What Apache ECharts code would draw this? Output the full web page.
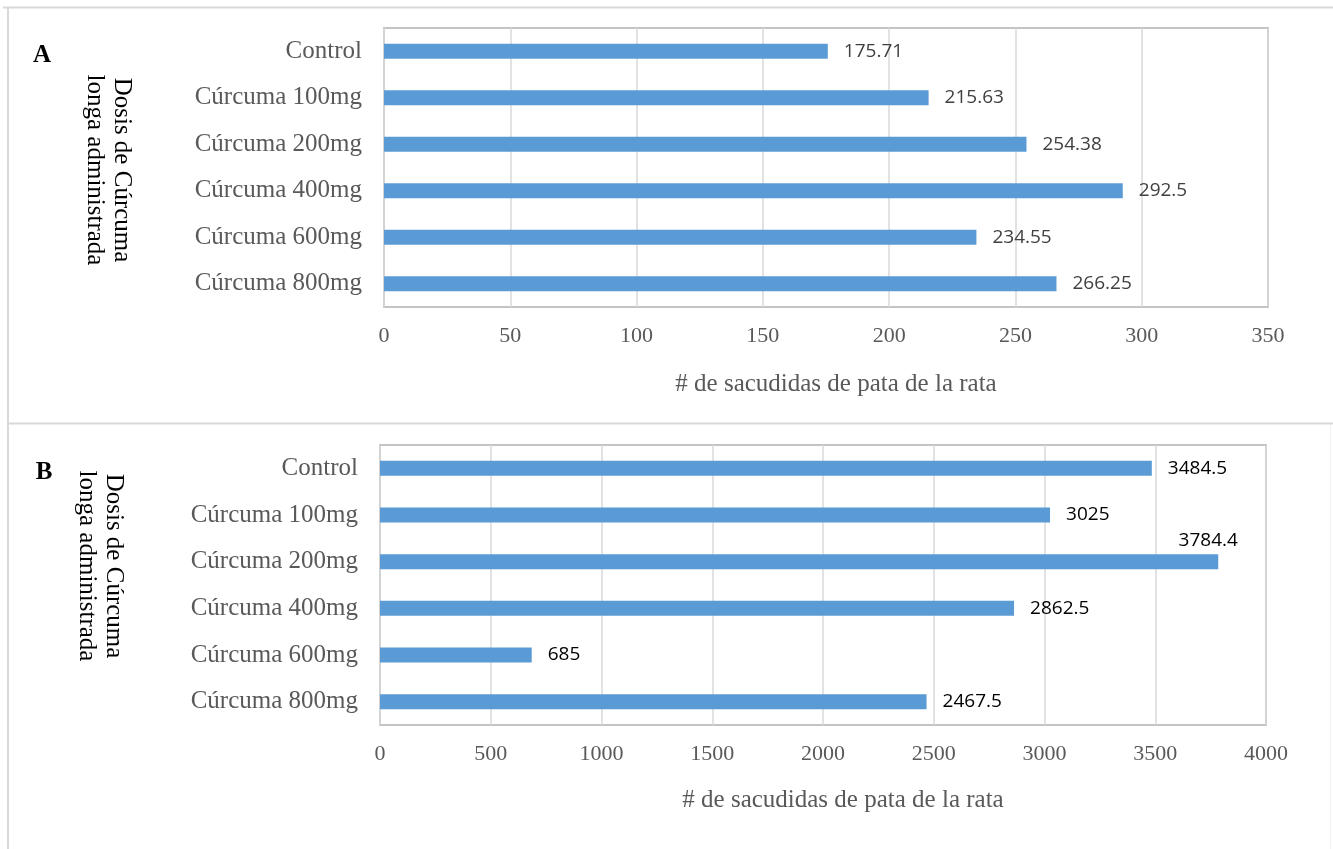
<!DOCTYPE html>
<html>
<head>
<meta charset="utf-8">
<script src="https://cdn.jsdelivr.net/npm/echarts@6/dist/echarts.min.js"></script>
<style>
  html, body { margin: 0; padding: 0; background: #fff; }
  #chart { width: 1333px; height: 849px; }
</style>
</head>
<body>
<div id="chart"></div>
<script>
// Dose groups (top to bottom)
const categories = ['Control', 'Cúrcuma 100mg', 'Cúrcuma 200mg', 'Cúrcuma 400mg', 'Cúrcuma 600mg', 'Cúrcuma 800mg'];
// Panel A: paw shakes
const valuesA = [175.71, 215.63, 254.38, 292.5, 234.55, 266.25];
// Panel B: paw shakes
const valuesB = [3484.5, 3025, 3784.4, 2862.5, 685, 2467.5];
const ticksA = { min: 0, max: 350, interval: 50 };
const ticksB = { min: 0, max: 4000, interval: 500 };
const axisName = '# de sacudidas de pata de la rata';
const yTitle = 'Dosis de Cúrcuma\nlonga administrada';

const serif = 'Liberation Serif';
const sans = 'Open Sans';
const barColor = '#5b9bd5';
const serifFont = size => size + 'px "Liberation Serif", serif';

function xAxisCfg(gridIndex, t) {
  return {
    type: 'value', gridIndex, min: t.min, max: t.max, interval: t.interval,
    axisLine: { show: false }, axisTick: { show: false },
    axisLabel: { fontFamily: serif, fontSize: 22, color: '#595959', margin: 18, formatter: v => String(v) },
    splitLine: { show: true, lineStyle: { color: '#d9d9d9', width: 1.5 } }
  };
}
function yAxisCfg(gridIndex) {
  return {
    type: 'category', gridIndex, data: categories, inverse: true,
    axisLine: { show: false }, axisTick: { show: false },
    axisLabel: { fontFamily: serif, fontSize: 25, color: '#595959', margin: 22 },
    splitLine: { show: false }
  };
}

const dataB = valuesB.map((v, i) => {
  // the longest bar carries its label above its end
  if (v === Math.max(...valuesB)) {
    return { value: v, label: { position: ['100%', 0], align: 'center', verticalAlign: 'bottom', offset: [-10, -4] } };
  }
  return v;
});

const chart = echarts.init(document.getElementById('chart'), null, { renderer: 'canvas' });
chart.setOption({
  animation: false,
  backgroundColor: '#fff',
  textStyle: { fontFamily: serif },
  grid: [
    { left: 384, right: 65, top: 28, bottom: 542, show: true, borderColor: '#c4c4c4', borderWidth: 2, backgroundColor: 'transparent' },
    { left: 380, right: 67, top: 445, bottom: 124, show: true, borderColor: '#c4c4c4', borderWidth: 2, backgroundColor: 'transparent' }
  ],
  xAxis: [xAxisCfg(0, ticksA), xAxisCfg(1, ticksB)],
  yAxis: [yAxisCfg(0), yAxisCfg(1)],
  series: [
    {
      type: 'bar', xAxisIndex: 0, yAxisIndex: 0, data: valuesA, barWidth: 15,
      itemStyle: { color: barColor },
      label: { show: true, position: 'right', distance: 16, fontFamily: sans, fontSize: 19, color: '#404040' }
    },
    {
      type: 'bar', xAxisIndex: 1, yAxisIndex: 1, data: dataB, barWidth: 15,
      itemStyle: { color: barColor },
      label: { show: true, position: 'right', distance: 16, fontFamily: sans, fontSize: 19, color: '#000' }
    }
  ],
  graphic: [
    // panel frames
    { type: 'line', shape: { x1: 3, y1: 7.5, x2: 1333, y2: 7.5 }, style: { stroke: '#d9d9d9', lineWidth: 2 } },
    { type: 'line', shape: { x1: 8, y1: 7, x2: 8, y2: 849 }, style: { stroke: '#d9d9d9', lineWidth: 2 } },
    { type: 'line', shape: { x1: 8, y1: 423.5, x2: 1333, y2: 423.5 }, style: { stroke: '#d9d9d9', lineWidth: 2 } },
    { type: 'line', shape: { x1: 1330.5, y1: 424, x2: 1330.5, y2: 849 }, style: { stroke: '#f2f2f2', lineWidth: 1 } },
    // panel letters
    { type: 'text', x: 42, y: 56, style: { text: 'A', font: 'bold ' + serifFont(25), fill: '#000', align: 'center', verticalAlign: 'middle' } },
    { type: 'text', x: 44, y: 473, style: { text: 'B', font: 'bold ' + serifFont(25), fill: '#000', align: 'center', verticalAlign: 'middle' } },
    // value axis titles
    { type: 'text', x: 836, y: 384, style: { text: axisName, font: serifFont(25), fill: '#595959', align: 'center', verticalAlign: 'middle' } },
    { type: 'text', x: 843, y: 800, style: { text: axisName, font: serifFont(25), fill: '#595959', align: 'center', verticalAlign: 'middle' } },
    // category axis titles
    { type: 'text', x: 108, y: 170, rotation: -Math.PI / 2, style: { text: yTitle, font: serifFont(25), fill: '#000', align: 'center', verticalAlign: 'middle', lineHeight: 27 } },
    { type: 'text', x: 100, y: 566, rotation: -Math.PI / 2, style: { text: yTitle, font: serifFont(25), fill: '#000', align: 'center', verticalAlign: 'middle', lineHeight: 27 } }
  ]
});
</script>
</body>
</html>
